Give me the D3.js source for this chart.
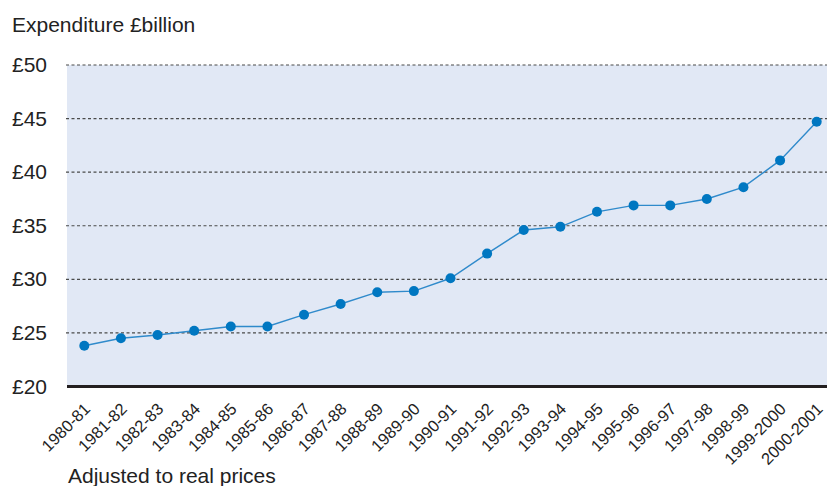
<!DOCTYPE html>
<html>
<head>
<meta charset="utf-8">
<script src="https://cdn.jsdelivr.net/npm/d3@7"></script>
<style>
  html, body { margin: 0; padding: 0; background: #fff; }
  svg { display: block; font-family: "Liberation Sans", Arial, Helvetica, sans-serif; }
</style>
</head>
<body>
<svg id="chart" width="827" height="486"></svg>
<script>
// Annual expenditure, £ billion, adjusted to real prices
const years = ["1980-81","1981-82","1982-83","1983-84","1984-85","1985-86","1986-87",
  "1987-88","1988-89","1989-90","1990-91","1991-92","1992-93","1993-94","1994-95",
  "1995-96","1996-97","1997-98","1998-99","1999-2000","2000-2001"];
const expenditure = [23.8, 24.5, 24.8, 25.2, 25.6, 25.6, 26.7, 27.7, 28.8, 28.9, 30.1,
  32.4, 34.6, 34.9, 36.3, 36.9, 36.9, 37.5, 38.6, 41.1, 44.7];
const yTicks = [20, 25, 30, 35, 40, 45, 50];
const yTickLabels = ["£20","£25","£30","£35","£40","£45","£50"];

const svg = d3.select("#chart");
const plot = { left: 67, right: 827, top: 65, bottom: 386.5 };

const x = d3.scalePoint().domain(years).range([84.3, 816.7]);
const y = d3.scaleLinear().domain([20, 50]).range([plot.bottom, plot.top]);

// plot background
svg.append("rect")
  .attr("x", plot.left).attr("y", y(50))
  .attr("width", plot.right - plot.left).attr("height", y(20) - y(50))
  .attr("fill", "#e1e8f5");

// dotted gridlines
svg.append("g").selectAll("line")
  .data(yTicks.filter(d => d > 20))
  .join("line")
  .attr("x1", plot.left - 1).attr("x2", plot.right)
  .attr("y1", d => y(d)).attr("y2", d => y(d))
  .attr("stroke", "#4a4a4a").attr("stroke-width", 1.2)
  .attr("stroke-dasharray", "3,2.5");

// y tick labels
svg.append("g").selectAll("text")
  .data(yTicks)
  .join("text")
  .attr("x", 12).attr("y", d => y(d))
  .attr("dy", "0.34em")
  .attr("font-size", 21).attr("fill", "#222")
  .text((d, i) => yTickLabels[i]);

// baseline axis
svg.append("line")
  .attr("x1", plot.left).attr("x2", plot.right)
  .attr("y1", y(20)).attr("y2", y(20))
  .attr("stroke", "#231f20").attr("stroke-width", 3);

// x tick labels, rotated
svg.append("g").selectAll("text")
  .data(years)
  .join("text")
  .attr("transform", d => `translate(${x(d) + 7},${410}) rotate(-45)`)
  .attr("text-anchor", "end")
  .attr("font-size", 16.5).attr("fill", "#222")
  .text(d => d);

// line
const line = d3.line().x((d, i) => x(years[i])).y(d => y(d));
svg.append("path")
  .datum(expenditure)
  .attr("d", line)
  .attr("fill", "none")
  .attr("stroke", "#2f8acb").attr("stroke-width", 1.4);

// points
svg.append("g").selectAll("circle")
  .data(expenditure)
  .join("circle")
  .attr("cx", (d, i) => x(years[i])).attr("cy", d => y(d))
  .attr("r", 5)
  .attr("fill", "#0077c1");

// titles
svg.append("text")
  .attr("x", 12).attr("y", 31.5)
  .attr("font-size", 21).attr("fill", "#222")
  .text("Expenditure £billion");

svg.append("text")
  .attr("x", 68).attr("y", 483)
  .attr("font-size", 21).attr("fill", "#222")
  .text("Adjusted to real prices");
</script>
</body>
</html>
